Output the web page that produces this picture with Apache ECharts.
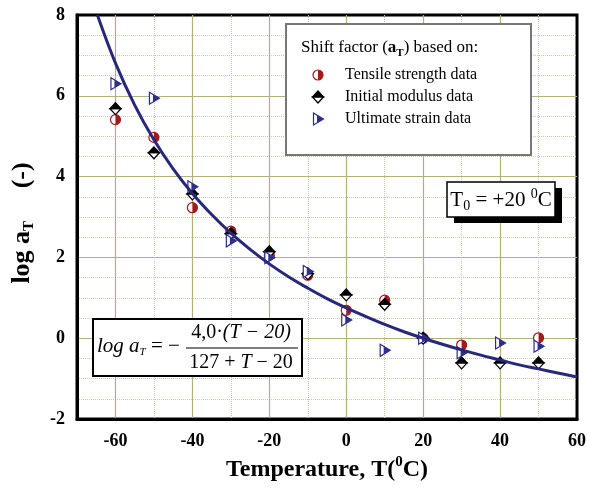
<!DOCTYPE html>
<html>
<head>
<meta charset="utf-8">
<script src="https://cdn.jsdelivr.net/npm/echarts@6/dist/echarts.min.js"></script>
<style>
html, body { margin: 0; padding: 0; background: #fff; }
#chart { width: 589px; height: 492px; }
</style>
</head>
<body>
<div id="chart"></div>
<script>
// measured points (log aT) per temperature
var temps = [-60, -50, -40, -30, -20, -10, 0, 10, 20, 30, 40, 50];
var tensile = [5.41, 4.97, 3.23, 2.65, 2.05, 1.56, 0.69, 0.94, 0.0, -0.17, null, 0.01];
var modulus = [5.68, 4.59, 3.57, 2.59, 2.14, 1.6, 1.07, 0.84, 0.0, -0.61, -0.61, -0.61];
var strain = [6.3, 5.94, 3.75, 2.41, 1.99, 1.65, 0.45, -0.3, 0.0, -0.36, -0.12, -0.2];

// fitted curve
var fitT = [-64.7, -60, -55, -50, -45, -40, -35, -30, -25, -20, -15, -10, -5, 0, 5, 10, 15, 20, 25, 30, 35, 40, 45, 50, 55, 60];
var fitLog = [8.0, 6.81, 5.77, 4.91, 4.19, 3.58, 3.06, 2.60, 2.20, 1.84, 1.52, 1.24, 0.98, 0.75, 0.54, 0.34, 0.16, 0.0, -0.15, -0.29, -0.42, -0.54, -0.66, -0.76, -0.86, -0.96];

var xLabels = [-60, -40, -20, 0, 20, 40, 60];

var RED = '#a3191c', BLACK = '#000', BLUE = '#2e2e8c', CURVE = '#28287a';
var MAJOR = '#b3b07a', MINOR = '#cfcca4';
var FONT = 'Liberation Serif';

function circleMark(x, y, c) {
	var r = 5;
	return [
		{ type: 'circle', shape: { cx: x, cy: y, r: r }, style: { fill: '#fff', stroke: c, lineWidth: 1.2 } },
		{ type: 'sector', shape: { cx: x, cy: y, r0: 0, r: r, startAngle: -Math.PI / 2, endAngle: Math.PI / 2 }, style: { fill: c } }
	];
}
function diamondMark(x, y, c) {
	var w = 5.5, h = 6;
	return [
		{ type: 'polygon', shape: { points: [[x - w, y], [x + w, y], [x, y + h]] }, style: { fill: '#fff', stroke: c, lineWidth: 1.2 } },
		{ type: 'polygon', shape: { points: [[x - w, y], [x, y - h], [x + w, y]] }, style: { fill: c, stroke: c, lineWidth: 1.2 } }
	];
}
function triMark(x, y, c) {
	var h = 6;
	return [
		{ type: 'polygon', shape: { points: [[x - 4.5, y - h], [x + 5.5, y], [x - 4.5, y + h]] }, style: { fill: '#fff', stroke: c, lineWidth: 1.2 } },
		{ type: 'polygon', shape: { points: [[x - 1, y - h * 6.5 / 10], [x + 5.5, y], [x - 1, y + h * 6.5 / 10]] }, style: { fill: c } }
	];
}

function pairs(xs, ys) {
	var out = [];
	for (var i = 0; i < xs.length; i++) {
		if (ys[i] !== null) out.push([xs[i], ys[i]]);
	}
	return out;
}

function markSeries(name, values, maker, color) {
	return {
		name: name,
		type: 'custom',
		data: pairs(temps, values),
		encode: { x: 0, y: 1 },
		renderItem: function(params, api) {
			var p = api.coord([api.value(0), api.value(1)]);
			return { type: 'group', children: maker(p[0], p[1], color) };
		}
	};
}

var chart = echarts.init(document.getElementById('chart'));

var legendGraphics = [
	{ type: 'rect', z: 10, shape: { x: 286, y: 24, width: 245, height: 131 }, style: { fill: '#fff', stroke: '#777', lineWidth: 2 } },
	{ type: 'text', z: 11, x: 301, y: 48, style: {
		text: '{n|Shift factor (}{b|a}{bs|T}{n|) based on:}',
		textVerticalAlign: 'middle', fill: '#000',
		rich: {
			n: { fontFamily: FONT, fontSize: 17, lineHeight: 22 },
			b: { fontFamily: FONT, fontSize: 17, fontWeight: 'bold', lineHeight: 22 },
			bs: { fontFamily: FONT, fontSize: 11, fontWeight: 'bold', lineHeight: 11, verticalAlign: 'bottom' }
		}
	} },
	{ type: 'text', z: 11, x: 345, y: 75, style: { text: 'Tensile strength data', font: '16px ' + FONT, fill: '#000', textVerticalAlign: 'middle' } },
	{ type: 'text', z: 11, x: 345, y: 97, style: { text: 'Initial modulus data', font: '16px ' + FONT, fill: '#000', textVerticalAlign: 'middle' } },
	{ type: 'text', z: 11, x: 345, y: 119, style: { text: 'Ultimate strain data', font: '16px ' + FONT, fill: '#000', textVerticalAlign: 'middle' } }
];
[circleMark(318, 75, RED), diamondMark(318, 97, BLACK), triMark(318, 119, BLUE)].forEach(function(arr) {
	arr.forEach(function(el) { el.z = 12; legendGraphics.push(el); });
});

var boxGraphics = [
	// T0 box with shadow
	{ type: 'rect', z: 10, shape: { x: 454, y: 188, width: 108, height: 35 }, style: { fill: '#000' } },
	{ type: 'rect', z: 11, shape: { x: 447, y: 182, width: 108, height: 35 }, style: { fill: '#fff', stroke: '#000', lineWidth: 1.5 } },
	{ type: 'text', z: 12, x: 501, y: 200, style: {
		text: '{n|T}{s|0}{n| = +20 }{p|0}{n|C}',
		textAlign: 'center', textVerticalAlign: 'middle', fill: '#000',
		rich: {
			n: { fontFamily: FONT, fontSize: 21, lineHeight: 26 },
			s: { fontFamily: FONT, fontSize: 14, lineHeight: 14, verticalAlign: 'bottom' },
			p: { fontFamily: FONT, fontSize: 14, lineHeight: 14, verticalAlign: 'top' }
		}
	} },
	// formula box
	{ type: 'rect', z: 10, shape: { x: 93, y: 319, width: 209, height: 57 }, style: { fill: '#fff', stroke: '#000', lineWidth: 2 } },
	{ type: 'text', z: 11, x: 97, y: 346, style: {
		text: '{i|log a}{s|T}{n| = \u2212}',
		textVerticalAlign: 'middle', fill: '#000',
		rich: {
			i: { fontFamily: FONT, fontSize: 21, fontStyle: 'italic', lineHeight: 24 },
			s: { fontFamily: FONT, fontSize: 11, fontStyle: 'italic', lineHeight: 11, verticalAlign: 'bottom' },
			n: { fontFamily: FONT, fontSize: 21, lineHeight: 24 }
		}
	} },
	{ type: 'line', z: 11, shape: { x1: 186, y1: 348, x2: 298, y2: 348 }, style: { stroke: '#000', lineWidth: 1.2 } },
	{ type: 'text', z: 11, x: 241, y: 333, style: {
		text: '{n|4,0\u00b7}{i|(T \u2212 20)}',
		textAlign: 'center', textVerticalAlign: 'middle', fill: '#000',
		rich: {
			n: { fontFamily: FONT, fontSize: 20 },
			i: { fontFamily: FONT, fontSize: 20, fontStyle: 'italic' }
		}
	} },
	{ type: 'text', z: 11, x: 241, y: 363, style: {
		text: '{n|127 + }{i|T}{n| \u2212 20}',
		textAlign: 'center', textVerticalAlign: 'middle', fill: '#000',
		rich: {
			n: { fontFamily: FONT, fontSize: 20 },
			i: { fontFamily: FONT, fontSize: 20, fontStyle: 'italic' }
		}
	} }
];

var option = {
	animation: false,
	backgroundColor: '#fff',
	grid: {
		left: 77,
		right: 9,
		top: 15,
		bottom: 73,
		show: true,
		borderColor: '#000',
		borderWidth: 3,
		backgroundColor: 'transparent'
	},
	xAxis: [ {
		type: 'value',
		min: -70,
		max: 60,
		interval: 10,
		name: '{b|Temperature, T(}{p|0}{b|C)}',
		nameLocation: 'middle',
		nameGap: 32,
		nameTextStyle: {
			rich: {
				b: { fontFamily: FONT, fontSize: 24, fontWeight: 'bold', lineHeight: 29, color: '#000' },
				p: { fontFamily: FONT, fontSize: 15, fontWeight: 'bold', lineHeight: 15, verticalAlign: 'top', color: '#000' }
			}
		},
		axisLine: { show: true, onZero: false, lineStyle: { color: '#000', width: 3 } },
		axisTick: { show: false },
		axisLabel: {
			margin: 13,
			fontFamily: FONT,
			fontSize: 18,
			fontWeight: 'bold',
			color: '#000',
			formatter: function(v) {
				return xLabels.indexOf(Math.round(v)) >= 0 ? String(Math.round(v)) : '';
			}
		},
		splitLine: { show: true, showMinLine: false, showMaxLine: false, lineStyle: { color: [MAJOR, 'transparent'], width: 1.2 } }
	}, {
		type: 'value',
		min: -70,
		max: 60,
		interval: 10,
		position: 'bottom',
		axisLine: { show: false },
		axisTick: { show: false },
		axisLabel: { show: false },
		splitLine: { show: true, showMinLine: false, showMaxLine: false, lineStyle: { color: ['transparent', MINOR], type: 'dotted', width: 1 } }
	} ],
	yAxis: {
		type: 'value',
		min: -2,
		max: 8,
		interval: 2,
		name: '{b|log a}{s|T}{b|     (-)}',
		nameLocation: 'middle',
		nameGap: 40,
		nameTextStyle: {
			padding: [0, 12, 0, 0],
			rich: {
				b: { fontFamily: FONT, fontSize: 26, fontWeight: 'bold', lineHeight: 30, color: '#000' },
				s: { fontFamily: FONT, fontSize: 15, fontWeight: 'bold', lineHeight: 15, verticalAlign: 'bottom', color: '#000' }
			}
		},
		axisLine: { show: true, onZero: false, lineStyle: { color: '#000', width: 3 } },
		axisTick: { show: false },
		axisLabel: { margin: 12, fontFamily: FONT, fontSize: 18, fontWeight: 'bold', color: '#000' },
		splitLine: { show: true, showMinLine: false, showMaxLine: false, lineStyle: { color: MAJOR, width: 1.2 } },
		minorTick: { show: false, splitNumber: 4 },
		minorSplitLine: { show: true, lineStyle: { color: MINOR, type: 'dotted', width: 1 } }
	},
	series: [
		{
			name: 'fit',
			type: 'line',
			smooth: 0.4,
			showSymbol: false,
			data: pairs(fitT, fitLog),
			lineStyle: { color: CURVE, width: 3 }
		},
		markSeries('Tensile strength data', tensile, circleMark, RED),
		markSeries('Initial modulus data', modulus, diamondMark, BLACK),
		markSeries('Ultimate strain data', strain, triMark, BLUE)
	],
	graphic: legendGraphics.concat(boxGraphics)
};
chart.setOption(option);
</script>
</body>
</html>
